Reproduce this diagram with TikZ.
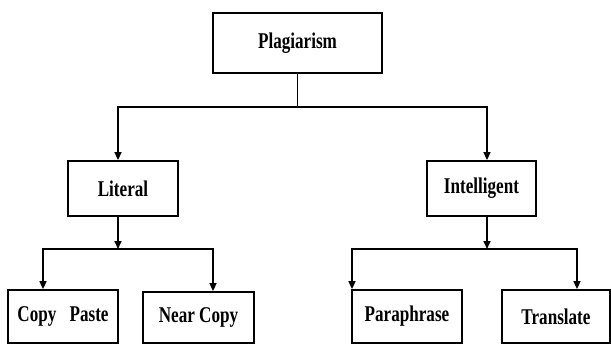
\documentclass[tikz,border=0pt]{standalone}
\usepackage{fontspec}
\newfontfamily\lblfont[FakeStretch=0.76]{Liberation Serif}
\usetikzlibrary{arrows.meta}
\begin{document}
\begin{tikzpicture}[x=1pt,y=1pt,
  box/.style={draw, line width=1.8pt, inner sep=0pt, font=\lblfont\bfseries\fontsize{22.5}{22.5}\selectfont},
  conn/.style={line width=1.6pt},
  arr/.style={conn, -{Triangle[width=7pt,length=8pt]}}]
\useasboundingbox (0,0) rectangle (611,-345);
\node[box, minimum width=169pt, minimum height=60pt] (plag) at (297.5,-43) {Plagiarism};
\node[box, minimum width=110pt, minimum height=55pt] (lit) at (123,-188.5) {Literal};
\node[box, minimum width=109pt, minimum height=55pt] (intel) at (481.5,-188.5) {Intelligent};
\node[box, minimum width=110pt, minimum height=53pt] (cp) at (63,-316.5) {Copy\hspace{0.4em} Paste};
\node[box, minimum width=111pt, minimum height=51pt] (nc) at (198.5,-317.5) {Near Copy};
\node[box, minimum width=110pt, minimum height=53pt] (pp) at (407,-316.5) {Paraphrase};
\node[box, minimum width=108pt, minimum height=53pt] (tr) at (556,-316.5) {Translate};
\coordinate (j1) at (297.5,-107);
\coordinate (j2) at (118,-249);
\coordinate (j3) at (487,-249);
\draw[conn] (plag.south) -- (j1);
\draw[arr] (j1) -| ([xshift=-5pt]lit.north);
\draw[arr] (j1) -| ([xshift=5.5pt]intel.north);
\draw[arr] ([xshift=-5pt]lit.south) -- (j2);
\draw[arr] (j2) -| ([xshift=-20pt]cp.north);
\draw[arr] (j2) -| ([xshift=14.5pt]nc.north);
\draw[arr] ([xshift=5.5pt]intel.south) -- (j3);
\draw[arr] (j3) -| ([xshift=-55pt]pp.north);
\draw[arr] (j3) -| ([xshift=21pt]tr.north);
\end{tikzpicture}
\end{document}
